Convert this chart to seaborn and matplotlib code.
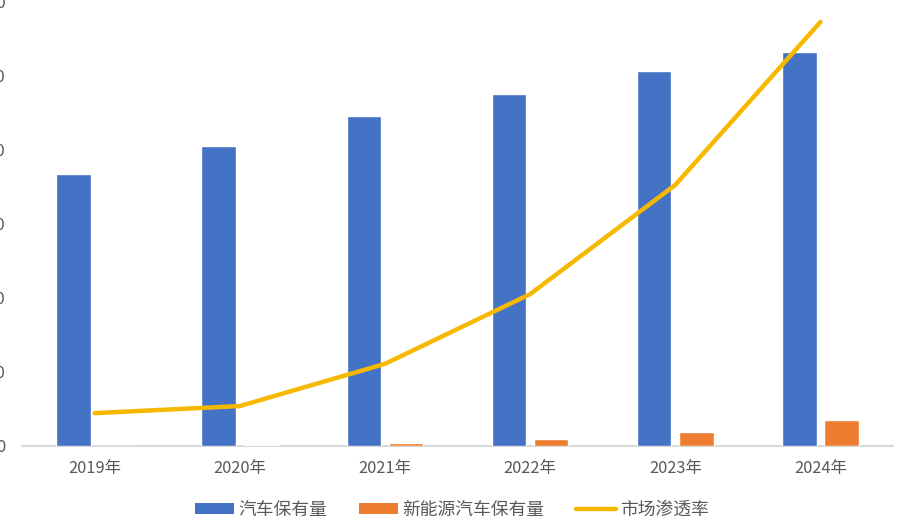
import matplotlib
matplotlib.use("Agg")
import matplotlib.pyplot as plt
import seaborn as sns
import pandas as pd
import numpy as np
from matplotlib.patches import Patch
from matplotlib.lines import Line2D

years = ["2019年", "2020年", "2021年", "2022年", "2023年", "2024年"]
car_stock = [36760, 40540, 44600, 47570, 50680, 53240]
nev_stock = [0, 200, 470, 1010, 1950, 3450]
penetration = [0.74, 0.90, 1.85, 3.42, 5.88, 9.55]
series_names = ["汽车保有量", "新能源汽车保有量", "市场渗透率"]
y_ticks = [0, 10000, 20000, 30000, 40000, 50000, 60000]

sns.set_theme(style="white")
plt.rcParams['font.family'] = ['Noto Sans CJK SC', 'DejaVu Sans']

BLUE = "#4472C4"
ORANGE = "#ED7D31"
YELLOW = "#F7B900"
GRAY = "#595959"

df = pd.DataFrame({
    "year": years * 2,
    "value": car_stock + nev_stock,
    "series": [series_names[0]] * len(years) + [series_names[1]] * len(years),
})

fig = plt.figure(figsize=(8.98, 5.23), dpi=100)
ax = fig.add_axes([22 / 898, 77 / 523, 871 / 898, 444 / 523])

sns.barplot(data=df, x="year", y="value", hue="series", order=years,
            hue_order=series_names[:2], palette=[BLUE, ORANGE],
            width=0.58, gap=0.18, ax=ax, legend=False, saturation=1,
            errorbar=None, zorder=3)
ax.set_xlim(-0.5, 5.5)
ax.set_ylim(0, 60000)
ax.set_yticks(y_ticks)
ax.set_yticklabels([str(v) for v in y_ticks])
ax.set_xlabel("")
ax.set_ylabel("")
for s in ["top", "right", "left"]:
    ax.spines[s].set_visible(False)
ax.spines["bottom"].set_color("#D9D9D9")
ax.spines["bottom"].set_linewidth(1.5)
ax.spines["bottom"].set_zorder(1)
ax.tick_params(axis="both", length=0, colors=GRAY, labelsize=11.8)
ax.tick_params(axis="y", pad=12)
ax.tick_params(axis="x", pad=10)
ax.grid(False)

ax2 = ax.twinx()
sns.lineplot(x=np.arange(len(years)), y=penetration, ax=ax2, color=YELLOW,
             linewidth=3.2, solid_capstyle="round", solid_joinstyle="round")
ax2.set_ylim(0, 10)
ax2.set_xlim(-0.5, 5.5)
ax2.set_yticks([])
for s in ["top", "right", "left", "bottom"]:
    ax2.spines[s].set_visible(False)
ax2.grid(False)

handles = [Patch(facecolor=BLUE, edgecolor="none"),
           Patch(facecolor=ORANGE, edgecolor="none"),
           Line2D([0], [0], color=YELLOW, linewidth=3.2, solid_capstyle="round")]
leg = fig.legend(handles, series_names, loc="center", bbox_to_anchor=(0.503, 0.025),
                 ncol=3, frameon=False, fontsize=12.8, handlelength=2.2,
                 handleheight=0.6, handletextpad=0.25, columnspacing=1.8,
                 labelcolor=GRAY)

fig.savefig("out.png", dpi=100)
